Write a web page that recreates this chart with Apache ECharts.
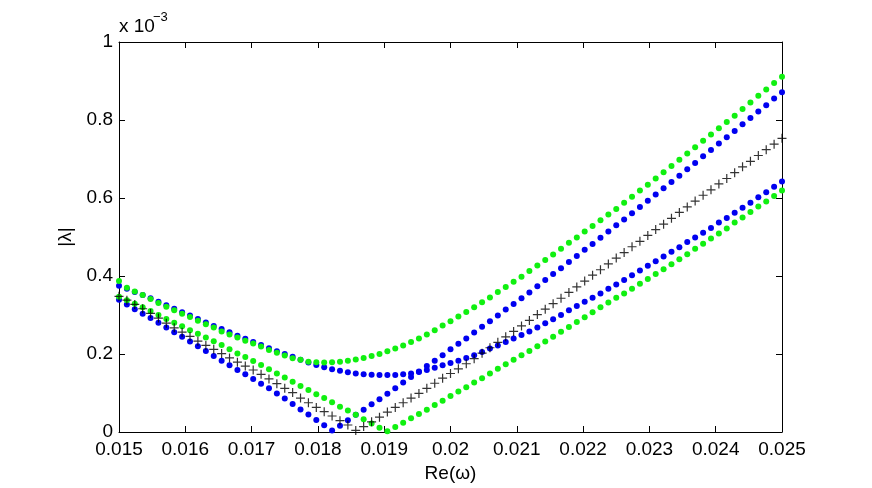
<!DOCTYPE html>
<html>
<head>
<meta charset="UTF-8">
<title>|λ| vs Re(ω)</title>
<script src="https://cdn.jsdelivr.net/npm/echarts@6/dist/echarts.min.js"></script>
<style>
  html, body { margin: 0; padding: 0; background: #fff; }
  #chart { width: 872px; height: 488px; }
</style>
</head>
<body>
<div id="chart"></div>
<script>
// Re(omega) sample points
const reOmega = [
  0.015000, 0.015119, 0.015238, 0.015357, 0.015476, 0.015595, 0.015714, 0.015833, 0.015952, 0.016071,
  0.016190, 0.016310, 0.016429, 0.016548, 0.016667, 0.016786, 0.016905, 0.017024, 0.017143, 0.017262,
  0.017381, 0.017500, 0.017619, 0.017738, 0.017857, 0.017976, 0.018095, 0.018214, 0.018333, 0.018452,
  0.018571, 0.018690, 0.018810, 0.018929, 0.019048, 0.019167, 0.019286, 0.019405, 0.019524, 0.019643,
  0.019762, 0.019881, 0.020000, 0.020119, 0.020238, 0.020357, 0.020476, 0.020595, 0.020714, 0.020833,
  0.020952, 0.021071, 0.021190, 0.021310, 0.021429, 0.021548, 0.021667, 0.021786, 0.021905, 0.022024,
  0.022143, 0.022262, 0.022381, 0.022500, 0.022619, 0.022738, 0.022857, 0.022976, 0.023095, 0.023214,
  0.023333, 0.023452, 0.023571, 0.023690, 0.023810, 0.023929, 0.024048, 0.024167, 0.024286, 0.024405,
  0.024524, 0.024643, 0.024762, 0.024881, 0.025000
];

// |lambda| in units of 1e-3
const blueUpper = [
  0.375, 0.367, 0.359, 0.351, 0.343, 0.334, 0.325, 0.316, 0.307, 0.299,
  0.290, 0.281, 0.272, 0.264, 0.256, 0.247, 0.239, 0.231, 0.223, 0.215,
  0.207, 0.200, 0.193, 0.185, 0.178, 0.172, 0.166, 0.161, 0.157, 0.153,
  0.150, 0.148, 0.147, 0.146, 0.146, 0.146, 0.148, 0.150, 0.154, 0.159,
  0.165, 0.171, 0.177, 0.183, 0.190, 0.197, 0.205, 0.214, 0.222, 0.231,
  0.240, 0.249, 0.258, 0.268, 0.279, 0.289, 0.300, 0.312, 0.323, 0.334,
  0.344, 0.355, 0.367, 0.378, 0.390, 0.402, 0.414, 0.426, 0.438, 0.450,
  0.462, 0.474, 0.487, 0.499, 0.511, 0.523, 0.537, 0.549, 0.562, 0.575,
  0.588, 0.602, 0.615, 0.629, 0.642
];

const blueLower = [
  0.339, 0.327, 0.315, 0.303, 0.292, 0.280, 0.268, 0.256, 0.244, 0.232,
  0.220, 0.208, 0.195, 0.183, 0.171, 0.159, 0.148, 0.136, 0.124, 0.112,
  0.099, 0.086, 0.072, 0.058, 0.045, 0.031, 0.017, 0.004, 0.016, 0.030,
  0.044, 0.057, 0.071, 0.084, 0.098, 0.112, 0.127, 0.141, 0.155, 0.169,
  0.183, 0.197, 0.212, 0.226, 0.240, 0.255, 0.270, 0.284, 0.299, 0.314,
  0.328, 0.343, 0.358, 0.374, 0.390, 0.405, 0.420, 0.436, 0.451, 0.467,
  0.482, 0.498, 0.514, 0.530, 0.545, 0.561, 0.577, 0.593, 0.609, 0.625,
  0.641, 0.657, 0.674, 0.690, 0.707, 0.723, 0.740, 0.756, 0.772, 0.789,
  0.805, 0.822, 0.838, 0.855, 0.871
];

const greenUpper = [
  0.387, 0.370, 0.360, 0.351, 0.341, 0.331, 0.321, 0.312, 0.303, 0.295,
  0.285, 0.276, 0.268, 0.258, 0.250, 0.242, 0.234, 0.227, 0.219, 0.210,
  0.203, 0.196, 0.189, 0.185, 0.180, 0.179, 0.178, 0.179, 0.180, 0.183,
  0.186, 0.190, 0.195, 0.200, 0.207, 0.214, 0.222, 0.231, 0.240, 0.250,
  0.261, 0.273, 0.284, 0.296, 0.308, 0.320, 0.333, 0.345, 0.359, 0.372,
  0.385, 0.398, 0.413, 0.427, 0.441, 0.455, 0.470, 0.485, 0.499, 0.514,
  0.528, 0.543, 0.558, 0.572, 0.588, 0.603, 0.619, 0.634, 0.650, 0.666,
  0.682, 0.698, 0.714, 0.730, 0.747, 0.763, 0.779, 0.795, 0.811, 0.828,
  0.845, 0.862, 0.878, 0.895, 0.911
];

const greenLower = [
  0.347, 0.338, 0.329, 0.320, 0.310, 0.300, 0.290, 0.280, 0.271, 0.261,
  0.252, 0.242, 0.233, 0.223, 0.212, 0.201, 0.192, 0.182, 0.172, 0.161,
  0.150, 0.140, 0.129, 0.118, 0.108, 0.097, 0.087, 0.076, 0.065, 0.055,
  0.044, 0.033, 0.022, 0.011, 0.002, 0.013, 0.024, 0.035, 0.046, 0.057,
  0.069, 0.080, 0.092, 0.104, 0.115, 0.127, 0.138, 0.150, 0.162, 0.174,
  0.185, 0.197, 0.208, 0.220, 0.232, 0.244, 0.257, 0.269, 0.282, 0.294,
  0.307, 0.320, 0.332, 0.344, 0.355, 0.367, 0.380, 0.392, 0.405, 0.417,
  0.430, 0.443, 0.456, 0.470, 0.483, 0.496, 0.509, 0.522, 0.537, 0.550,
  0.564, 0.578, 0.591, 0.605, 0.619
];

const blackCross = [
  0.348, 0.338, 0.327, 0.316, 0.304, 0.292, 0.279, 0.267, 0.256, 0.245,
  0.233, 0.222, 0.212, 0.201, 0.190, 0.179, 0.169, 0.159, 0.148, 0.136,
  0.124, 0.112, 0.101, 0.087, 0.075, 0.063, 0.052, 0.041, 0.029, 0.018,
  0.004, 0.014, 0.026, 0.038, 0.051, 0.063, 0.075, 0.087, 0.099, 0.112,
  0.125, 0.138, 0.150, 0.162, 0.175, 0.188, 0.202, 0.216, 0.230, 0.244,
  0.258, 0.272, 0.286, 0.301, 0.315, 0.329, 0.343, 0.358, 0.372, 0.387,
  0.402, 0.416, 0.431, 0.446, 0.460, 0.475, 0.489, 0.504, 0.519, 0.533,
  0.548, 0.563, 0.577, 0.592, 0.607, 0.621, 0.636, 0.650, 0.665, 0.680,
  0.694, 0.709, 0.724, 0.738, 0.753
];

const FONT = 'Liberation Sans, Arial, Helvetica, sans-serif';
const BLUE = '#0000f0';
const GREEN = '#10f010';

function pairs(ys) {
  return reOmega.map((x, i) => [x, ys[i]]);
}

function dots(ys, color) {
  return {
    type: 'scatter',
    symbol: 'circle',
    symbolSize: 6,
    clip: false,
    silent: true,
    itemStyle: { color: color, opacity: 1 },
    data: pairs(ys)
  };
}

const chart = echarts.init(document.getElementById('chart'));

const xAxisBase = {
  type: 'value',
  min: 0.015,
  max: 0.025,
  interval: 0.001,
  splitLine: { show: false },
  axisLine: { onZero: false, lineStyle: { color: '#000', width: 1 } },
  axisTick: { inside: true, length: 6, lineStyle: { color: '#000' } }
};

const yAxisBase = {
  type: 'value',
  min: 0,
  max: 1,
  interval: 0.2,
  splitLine: { show: false },
  axisLine: { show: true, onZero: false, lineStyle: { color: '#000', width: 1 } },
  axisTick: { show: true, inside: true, length: 6, lineStyle: { color: '#000' } }
};

chart.setOption({
  animation: false,
  backgroundColor: '#fff',
  textStyle: { fontFamily: FONT },
  grid: { left: 119, right: 90, top: 42, bottom: 56 },
  xAxis: [
    Object.assign({}, xAxisBase, {
      position: 'bottom',
      name: 'Re(ω)',
      nameLocation: 'middle',
      nameGap: 27,
      nameTextStyle: { fontSize: 19, color: '#000', fontFamily: FONT },
      axisLabel: {
        margin: 8,
        fontSize: 19,
        color: '#000',
        fontFamily: FONT,
        formatter: v => String(parseFloat(v.toFixed(3)))
      }
    }),
    Object.assign({}, xAxisBase, {
      position: 'top',
      axisLabel: { show: false }
    })
  ],
  yAxis: [
    Object.assign({}, yAxisBase, {
      position: 'left',
      name: '|λ|',
      nameLocation: 'middle',
      nameGap: 40,
      nameRotate: 90,
      nameTextStyle: { fontSize: 19, color: '#000', fontFamily: FONT },
      axisLabel: {
        margin: 6,
        fontSize: 19,
        color: '#000',
        fontFamily: FONT,
        formatter: v => String(parseFloat(v.toFixed(1)))
      }
    }),
    Object.assign({}, yAxisBase, {
      position: 'right',
      axisLabel: { show: false }
    })
  ],
  graphic: [
    {
      type: 'text',
      x: 119,
      y: 27,
      style: { text: 'x 10', font: '19px ' + FONT, fill: '#000', verticalAlign: 'middle' }
    },
    {
      type: 'text',
      x: 153,
      y: 17.5,
      style: { text: '−3', font: '13px ' + FONT, fill: '#000', verticalAlign: 'middle' }
    }
  ],
  series: [
    dots(blueUpper, BLUE),
    dots(blueLower, BLUE),
    dots(greenUpper, GREEN),
    dots(greenLower, GREEN),
    {
      type: 'scatter',
      symbol: 'path://M0,5L10,5M5,0L5,10',
      symbolSize: 9,
      clip: false,
      silent: true,
      itemStyle: { color: 'rgba(0,0,0,0)', borderColor: '#000', borderWidth: 1.2 },
      data: pairs(blackCross)
    }
  ]
});
</script>
</body>
</html>
